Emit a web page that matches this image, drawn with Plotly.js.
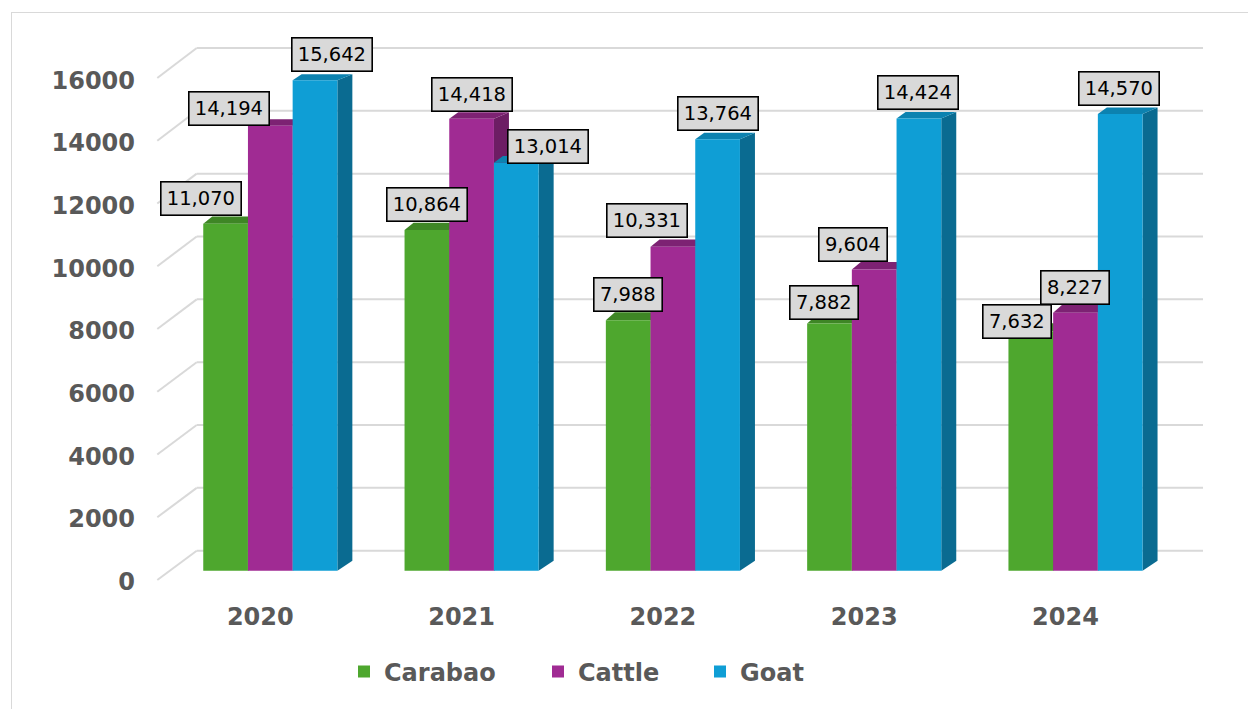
<!DOCTYPE html>
<html><head><meta charset="utf-8">
<script src="https://cdn.plot.ly/plotly-3.0.1.min.js"></script>
<style>
html,body{margin:0;padding:0;background:#fff;overflow:hidden}
#chart{width:1248px;height:709px;position:relative}
#frame{position:absolute;left:11px;top:12px;width:1300px;height:800px;border:1.5px solid #d9d9d9;pointer-events:none;box-sizing:border-box}
</style></head><body>
<div id="chart"></div><div id="frame"></div>
<script>
// ---- data ----
const years = ['2020', '2021', '2022', '2023', '2024'];
const carabao = [11070, 10864, 7988, 7882, 7632];
const cattle = [14194, 14418, 10331, 9604, 8227];
const goat = [15642, 13014, 13764, 14424, 14570];
const seriesNames = ['Carabao', 'Cattle', 'Goat'];
const yTicks = [0, 2000, 4000, 6000, 8000, 10000, 12000, 14000, 16000];

// ---- styles / positions ----
const frontColors = ['#4EA72E', '#A02B93', '#0F9ED5'];
const topColors = ['#3E8625', '#7D2273', '#0C82B0'];
const sideColors = ['#336D1E', '#6D1D64', '#0A6B91'];
// data-label pixel offsets (x shift, bottom above bar top)
const labelDx = [[-24.6, 0, 0, -5.5, -13.8], [-41, 0.5, -26.4, -21.4, -1], [16.5, 31.5, 0, -0.8, -1]];
const labelUp = [[8, 8, 7.8, 3.7, -7.8], [0, 6.4, 8.6, 7.9, 7.9], [8.6, -1, 8.3, 8.3, 8.1]];

const W = 1248, H = 709;
const L = 150, R = 1215, T = 20, B = 592;
const CAT_PX = 201.3, CAT0_PX = 270.3;
const BASE_PX = 570.7, S = 0.03135;
const BAR_PX = 44.7;
const xd = px => (px - CAT0_PX) / CAT_PX;
const yd = py => (BASE_PX - py) / S;
const xp = px => (px - L) / (R - L);
const yp = py => (B - py) / (B - T);

const series = [carabao, cattle, goat];
const cats = years.map((_, i) => i);
const barGap = 1 - 3 * BAR_PX / CAT_PX;
const barW = (1 - barGap) / 3;

const shapes = [];
// gridlines (back wall + left diagonal)
yTicks.forEach(v => {
  const backY = yd(550.7 - v * 0.03142);
  const frontY = yd(580 - v * 0.031375);
  shapes.push({type: 'line', xref: 'x', yref: 'y', layer: 'below', x0: xd(196.7), x1: xd(1203), y0: backY, y1: backY, line: {color: '#d9d9d9', width: 2}});
  shapes.push({type: 'line', xref: 'x', yref: 'y', layer: 'below', x0: xd(157.3), x1: xd(196.7), y0: frontY, y1: backY, line: {color: '#d9d9d9', width: 2}});
});
// 3D side and top faces
const dxR = 15 / CAT_PX, dxL = 9 / CAT_PX, dy0 = 10 / S;
series.forEach((vals, k) => {
  vals.forEach((v, i) => {
    const xl = i + (k - 1) * barW - barW / 2, xr = xl + barW;
    const dyT = (10 - 4 * v / 16000) / S;
    shapes.push({type: 'path', xref: 'x', yref: 'y', layer: 'below', fillcolor: sideColors[k], line: {width: 0},
      path: `M${xr},0 L${xr},${v} L${xr + dxR},${v + dyT} L${xr + dxR},${dy0} Z`});
    shapes.push({type: 'path', xref: 'x', yref: 'y', layer: 'below', fillcolor: topColors[k], line: {width: 0},
      path: `M${xl},${v} L${xr},${v} L${xr + dxR},${v + dyT} L${xl + dxL},${v + dyT} Z`});
  });
});

// data labels
const annotations = [];
series.forEach((vals, k) => {
  vals.forEach((v, i) => {
    const txt = v.toLocaleString('en-US');
    annotations.push({
      x: i + (k - 1) * barW, y: v, xref: 'x', yref: 'y', showarrow: false,
      xanchor: 'center', yanchor: 'bottom', xshift: labelDx[k][i], yshift: labelUp[k][i],
      text: txt, font: {family: 'DejaVu Sans', size: 19.5, color: '#000'},
      bgcolor: '#d9d9d9', bordercolor: '#000', borderwidth: 1.6, borderpad: 4,
      width: 12 * txt.length - 1.5, height: 23.5
    });
  });
});

const legendIds = ['legend', 'legend2', 'legend3'];
const legendLeft = [344, 538, 700];
const traces = series.map((vals, k) => ({
  type: 'bar', x: cats, y: vals, name: seriesNames[k],
  marker: {color: frontColors[k], line: {width: 0}},
  legend: legendIds[k], hoverinfo: 'name+y'
}));

const legFont = {family: 'DejaVu Sans', size: 24, weight: 700, color: '#595959'};
const layout = {
  width: W, height: H,
  margin: {l: L, r: W - R, t: T, b: H - B, pad: 0},
  paper_bgcolor: 'rgba(0,0,0,0)', plot_bgcolor: 'rgba(0,0,0,0)',
  barmode: 'group', bargap: barGap, bargroupgap: 0,
  font: {family: 'DejaVu Sans'},
  xaxis: {range: [xd(L), xd(R)], tickvals: cats, ticktext: years, showgrid: false, zeroline: false, showline: false,
    ticks: '', ticklabelshift: -10, ticklabelstandoff: 8, tickfont: legFont, fixedrange: true},
  yaxis: {range: [yd(B), yd(T)], tickvals: yTicks, ticktext: yTicks.map(String), showgrid: false, zeroline: false, showline: false,
    ticks: '', ticklabelshift: 11, ticklabelstandoff: 14, tickfont: legFont, fixedrange: true},
  shapes: shapes, annotations: annotations, showlegend: true
};
legendIds.forEach((id, k) => {
  layout[id] = {orientation: 'h', x: xp(legendLeft[k]), y: yp(672), xanchor: 'left', yanchor: 'middle',
    font: legFont, bgcolor: 'rgba(0,0,0,0)', borderwidth: 0};
});

Plotly.newPlot('chart', traces, layout, {displayModeBar: false, staticPlot: true});
</script></body></html>
